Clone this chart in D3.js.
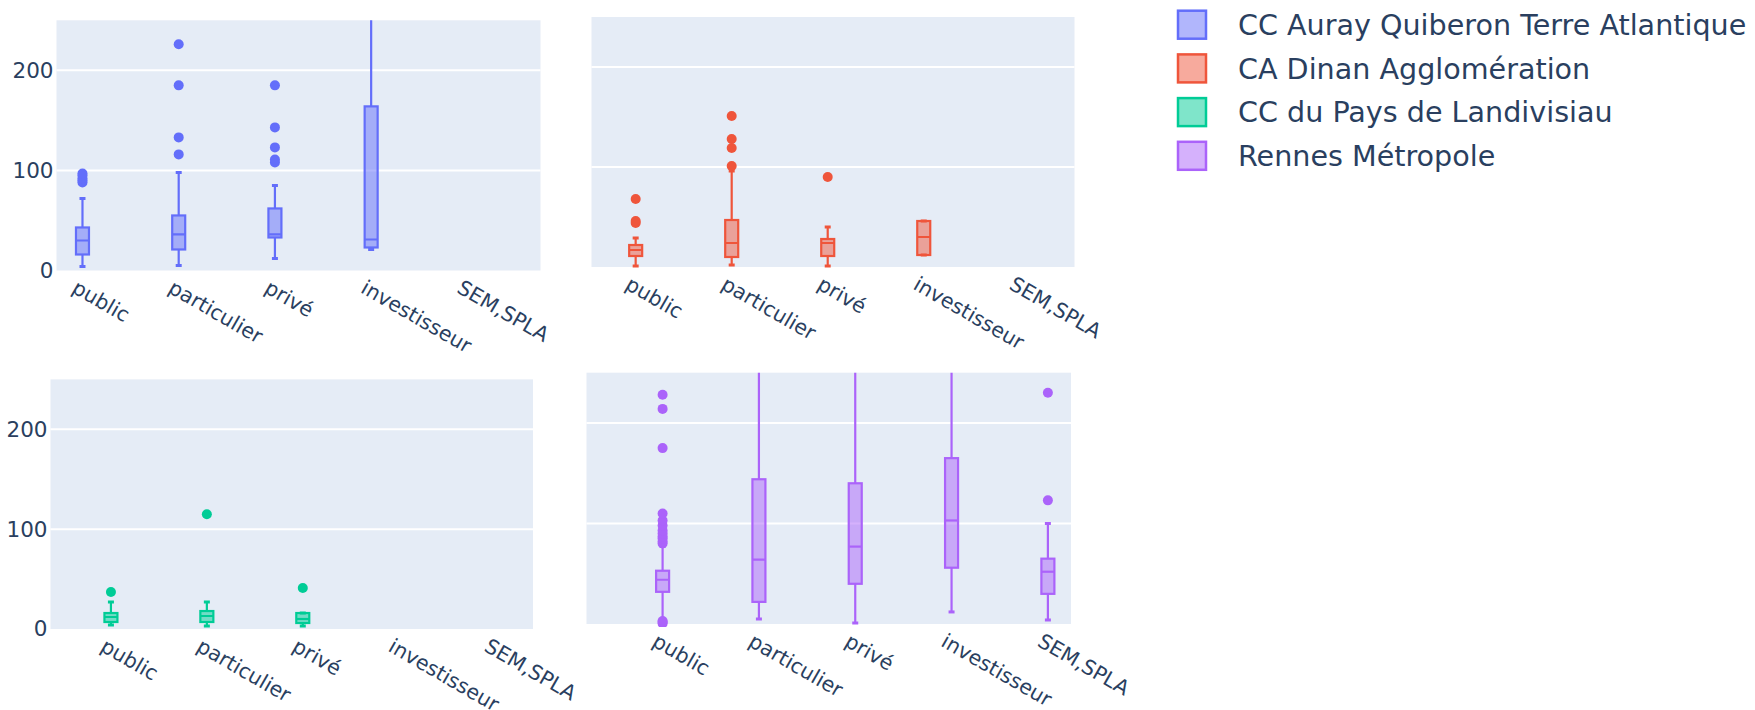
<!DOCTYPE html>
<html>
<head>
<meta charset="utf-8">
<script src="https://cdn.jsdelivr.net/npm/d3@7/dist/d3.min.js"></script>
<style>
  html, body { margin: 0; padding: 0; background: #fff; }
  svg { display: block; }
  text { font-family: "DejaVu Sans", Verdana, sans-serif; fill: #2a3f5f; }
</style>
</head>
<body>
<svg id="chart" width="1755" height="710"></svg>
<script>
// ---------- DATA ----------
const categories = ["public", "particulier", "privé", "investisseur", "SEM,SPLA"];
const territories = ["CC Auray Quiberon Terre Atlantique", "CA Dinan Agglomération", "CC du Pays de Landivisiau", "Rennes Métropole"];
const yTicks = [0, 100, 200];

// box stats per category: [lower whisker, Q1, median, Q3, upper whisker] (null = no data)
const aurayBoxes = [[4, 16, 30, 43, 72], [5, 21, 36, 55, 98], [12, 33, 36, 62, 85], [21, 23, 31, 164, 300], null];
const aurayOutliers = [[88, 90, 92, 95, 97], [116, 133, 185, 226], [108, 111, 123, 143, 185], [], []];

const dinanBoxes = [[1, 11, 17, 22, 29], [2, 10, 24, 47, 96], [1, 11, 24, 28, 40], [12, 12, 30, 46, 46], null];
const dinanOutliers = [[44, 46, 68], [101, 119, 128, 151], [90], [], []];

const landiBoxes = [[4, 7, 12, 16, 27], [3, 7, 13, 18, 27], [3, 6, 10, 16, 16], null, null];
const landiOutliers = [[37], [115], [41], [], []];

const rennesBoxes = [[4, 32, 44, 53, 77], [5, 22, 64, 144, 300], [1, 40, 77, 140, 300], [12, 56, 103, 165, 300], [4, 30, 52, 65, 100]];
const rennesOutliers = [[0.5, 2, 3, 80, 82, 85, 87, 90, 93, 98, 103, 110, 175, 214, 228], [], [], [], [123, 230]];

// ---------- STYLE / LAYOUT ----------
const colors = ["#636efa", "#EF553B", "#00cc96", "#ab63fa"];
const panels = [
  { boxes: aurayBoxes,  outliers: aurayOutliers,  x0: 56.5, x1: 540.5,  y0: 270.5, y1: 20.3,  xlo: -0.27, showY: true },
  { boxes: dinanBoxes,  outliers: dinanOutliers,  x0: 591.5, x1: 1074.5, y0: 267,   y1: 17,    xlo: -0.46, showY: false },
  { boxes: landiBoxes,  outliers: landiOutliers,  x0: 50.5,  x1: 533,    y0: 629,   y1: 379.4, xlo: -0.63, showY: true },
  { boxes: rennesBoxes, outliers: rennesOutliers, x0: 586.5, x1: 1071,   y0: 624,   y1: 372.7, xlo: -0.79, showY: false }
];

const svg = d3.select("#chart");
const defs = svg.append("defs");
const boxW = 13;
const FONT = '"DejaVu Sans", Verdana, sans-serif';

panels.forEach((p, pi) => {
  const color = colors[pi];
  const x = d3.scaleLinear().domain([p.xlo, p.xlo + 5.03]).range([p.x0, p.x1]);
  const y = d3.scaleLinear().domain([0, 250]).range([p.y0, p.y1]);

  const g = svg.append("g");
  g.append("rect").attr("x", p.x0).attr("y", p.y1)
    .attr("width", p.x1 - p.x0).attr("height", p.y0 - p.y1).attr("fill", "#E5ECF6");

  // grid
  g.selectAll("line.grid").data(yTicks.filter(t => t > 0)).enter().append("line")
    .attr("x1", p.x0).attr("x2", p.x1)
    .attr("y1", d => y(d)).attr("y2", d => y(d))
    .attr("stroke", "#fff").attr("stroke-width", 2);

  // y axis labels
  if (p.showY) {
    const yAxis = d3.axisLeft(y).tickValues(yTicks).tickSize(0).tickPadding(3);
    const ya = g.append("g").attr("transform", `translate(${p.x0},0)`)
      .attr("font-size", 21.5).attr("font-family", FONT).call(yAxis);
    ya.select(".domain").remove();
    ya.selectAll("text").style("font-size", "21.5px").style("font-family", FONT).attr("fill", "#2a3f5f");
  }

  // x axis labels
  const xa = g.append("g");
  categories.forEach((c, i) => {
    xa.append("text")
      .attr("transform", `translate(${x(i) - 4},${p.y0 + 8}) rotate(30)`)
      .attr("text-anchor", "start")
      .attr("dy", "0.75em")
      .style("font-size", "20.5px")
      .text(c);
  });

  // clip
  const clipId = "clip" + pi;
  defs.append("clipPath").attr("id", clipId).append("rect")
    .attr("x", p.x0).attr("y", p.y1).attr("width", p.x1 - p.x0).attr("height", p.y0 - p.y1 + 3);
  const m = g.append("g").attr("clip-path", `url(#${clipId})`);

  p.boxes.forEach((b, i) => {
    if (!b) return;
    const cx = x(i);
    const [lw, q1, med, q3, uw] = b;
    // whiskers
    m.append("line").attr("x1", cx).attr("x2", cx).attr("y1", y(q3)).attr("y2", y(uw))
      .attr("stroke", color).attr("stroke-width", 2.2);
    m.append("line").attr("x1", cx).attr("x2", cx).attr("y1", y(q1)).attr("y2", y(lw))
      .attr("stroke", color).attr("stroke-width", 2.2);
    // caps
    [lw, uw].forEach(v => {
      m.append("line").attr("x1", cx - 3).attr("x2", cx + 3).attr("y1", y(v)).attr("y2", y(v))
        .attr("stroke", color).attr("stroke-width", 3);
    });
    // box
    m.append("rect").attr("x", cx - boxW / 2).attr("y", y(q3))
      .attr("width", boxW).attr("height", Math.max(0.5, y(q1) - y(q3)))
      .attr("fill", color).attr("fill-opacity", 0.5)
      .attr("stroke", color).attr("stroke-width", 2.2);
    m.append("line").attr("x1", cx - boxW / 2).attr("x2", cx + boxW / 2)
      .attr("y1", y(med)).attr("y2", y(med))
      .attr("stroke", color).attr("stroke-width", 2.2);
  });

  p.outliers.forEach((arr, i) => {
    m.selectAll(null).data(arr).enter().append("circle")
      .attr("cx", x(i)).attr("cy", d => y(d)).attr("r", 5)
      .attr("fill", color);
  });
});

// legend
const legend = svg.append("g");
territories.forEach((t, i) => {
  const cy = 24.7 + i * 43.7;
  legend.append("rect").attr("x", 1178).attr("y", cy - 14).attr("width", 28).attr("height", 28)
    .attr("fill", colors[i]).attr("fill-opacity", 0.5)
    .attr("stroke", colors[i]).attr("stroke-width", 2.5);
  legend.append("text").attr("x", 1238).attr("y", cy).attr("dy", "0.36em")
    .style("font-size", "28.6px").text(t);
});
</script>
</body>
</html>
